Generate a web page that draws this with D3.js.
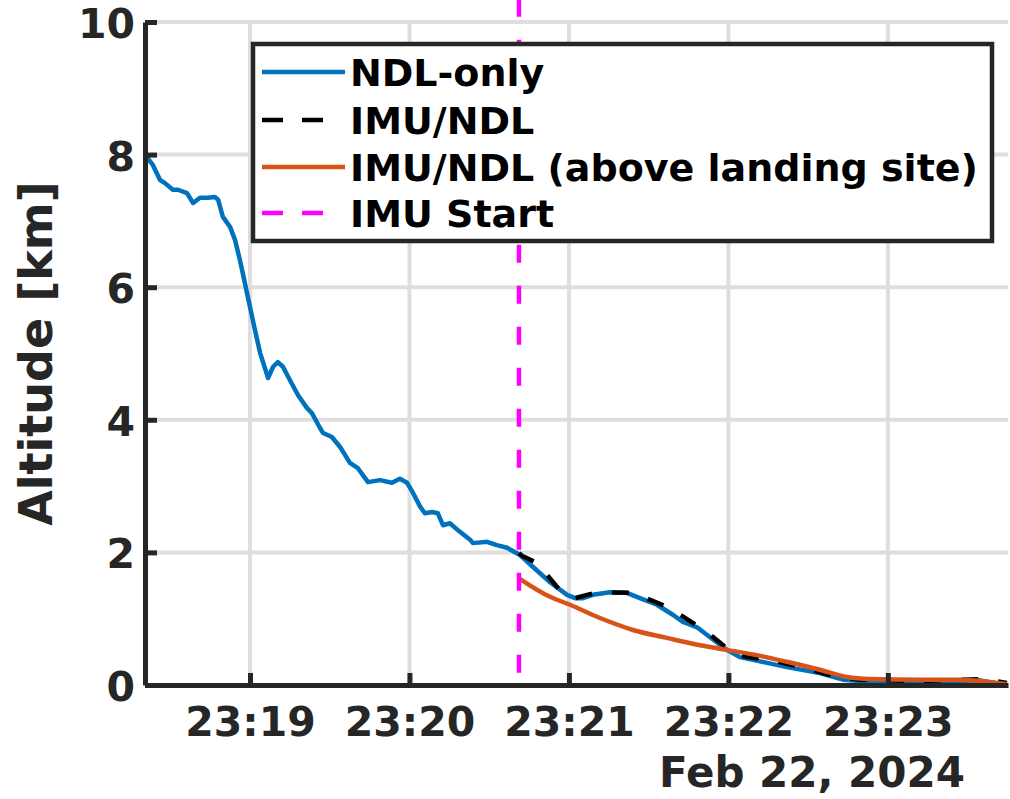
<!DOCTYPE html>
<html>
<head>
<meta charset="utf-8">
<script src="https://cdn.jsdelivr.net/npm/d3@7"></script>
<style>
  html, body { margin: 0; padding: 0; background: #ffffff; }
  svg { display: block; font-family: "DejaVu Sans", sans-serif; font-weight: bold; }
</style>
</head>
<body>
<svg id="chart" width="1010" height="799"></svg>
<script>
// ---- data (time = seconds after 23:18:00 UTC, 22 Feb 2024; altitude in km) ----
const ndlTime = [20.5, 23.5, 26.1, 28.0, 31.0, 32.9, 36.3, 38.6, 41.2, 44.2, 46.8, 48.0, 49.8, 52.5, 54.4, 56.2, 58.1, 60.0, 61.9, 63.8, 66.8, 68.7, 70.5, 72.4, 75.0, 78.1, 81.4, 83.3, 86.3, 87.5, 90.8, 93.9, 97.6, 100.6, 103.3, 104.4, 108.9, 113.4, 116.4, 119.1, 121.3, 124.0, 125.8, 128.5, 130.7, 132.6, 135.2, 139.0, 142.8, 143.9, 149.2, 152.9, 156.7, 161.6, 166.5, 172.9, 179.3, 182.3, 185.3, 189.0, 195.4, 201.8, 206.7, 213.1, 219.1, 222.9, 228.2, 233.1, 239.4, 244.3, 249.2, 262.0, 274.4, 283.1, 293.2, 312.1, 334.6, 344.8];
const ndlAlt  = [8.00, 7.84, 7.62, 7.57, 7.47, 7.47, 7.42, 7.27, 7.35, 7.35, 7.36, 7.32, 7.06, 6.91, 6.71, 6.41, 6.06, 5.70, 5.35, 5.01, 4.63, 4.80, 4.87, 4.80, 4.60, 4.37, 4.18, 4.10, 3.88, 3.80, 3.74, 3.59, 3.35, 3.27, 3.12, 3.06, 3.09, 3.05, 3.11, 3.05, 2.90, 2.69, 2.59, 2.61, 2.59, 2.41, 2.44, 2.31, 2.19, 2.14, 2.16, 2.11, 2.07, 1.96, 1.78, 1.55, 1.36, 1.31, 1.31, 1.36, 1.40, 1.39, 1.31, 1.21, 1.06, 0.95, 0.87, 0.72, 0.53, 0.42, 0.38, 0.27, 0.18, 0.08, 0.05, 0.04, 0.07, 0.00];

const imuTime = [161.2, 162.3, 168.0, 176.6, 182.3, 186.8, 191.7, 204.1, 218.0, 231.9, 241.7, 247.0, 255.6, 268.0, 280.8, 289.5, 312.1, 335.8, 344.8];
const imuAlt  = [1.99, 1.95, 1.84, 1.43, 1.31, 1.36, 1.40, 1.39, 1.16, 0.80, 0.48, 0.42, 0.38, 0.26, 0.12, 0.08, 0.06, 0.09, 0.03];

const siteTime = [161.2, 172.9, 180.4, 191.7, 204.1, 216.9, 229.3, 239.4, 250.7, 262.0, 274.4, 284.6, 293.2, 312.1, 327.1, 337.3, 344.8];
const siteAlt  = [1.61, 1.33, 1.21, 1.01, 0.83, 0.71, 0.60, 0.53, 0.45, 0.35, 0.23, 0.12, 0.09, 0.08, 0.08, 0.05, 0.01];

const imuStartTime = 161.2;
const imuStartAlt = [0, 10.35];

const xDomainSec = [20.5, 345.2];
const yDomain = [0, 10];
const yTicks = [0, 2, 4, 6, 8, 10];
const xTickLabels = ["23:19", "23:20", "23:21", "23:22", "23:23"];
const dateLabel = "Feb 22, 2024";
const yLabel = "Altitude [km]";
const legendLabels = ["NDL-only", "IMU/NDL", "IMU/NDL (above landing site)", "IMU Start"];
const seriesColors = ["#0072BD", "#000000", "#D95319", "#FF00FF"];

// ---- helpers ----
const base = Date.UTC(2024, 1, 22, 23, 18, 0);
const toDate = s => new Date(base + s * 1000);

const margin = { left: 145, right: 1008, top: 22, bottom: 685 };
const svg = d3.select("#chart");
const axisColor = "#262626";

const x = d3.scaleUtc().domain(xDomainSec.map(toDate)).range([margin.left, margin.right]);
const y = d3.scaleLinear().domain(yDomain).range([margin.bottom, margin.top]);
const xTickVals = xTickLabels.map(s => {
  const [h, m] = s.split(":").map(Number);
  return new Date(Date.UTC(2024, 1, 22, h, m, 0));
});

// ---- grid ----
const grid = svg.append("g");
grid.selectAll("line.gx").data(xTickVals).enter().append("line")
  .attr("x1", d => x(d)).attr("x2", d => x(d))
  .attr("y1", y(yDomain[0])).attr("y2", y(yDomain[1]))
  .attr("stroke", "#dedede").attr("stroke-width", 4);
grid.selectAll("line.gy").data(yTicks).enter().append("line")
  .attr("x1", margin.left).attr("x2", margin.right)
  .attr("y1", d => y(d)).attr("y2", d => y(d))
  .attr("stroke", "#dedede").attr("stroke-width", 4);

// ---- data lines ----
const line = d3.line().x(d => x(toDate(d[0]))).y(d => y(d[1]));
const zip = (a, b) => a.map((v, i) => [v, b[i]]);

svg.append("path").datum(zip(ndlTime, ndlAlt))
  .attr("d", line).attr("fill", "none")
  .attr("stroke", seriesColors[0]).attr("stroke-width", 4.5).attr("stroke-linejoin", "round");

svg.append("path").datum(zip(imuTime, imuAlt))
  .attr("d", line).attr("fill", "none")
  .attr("stroke", seriesColors[1]).attr("stroke-width", 4.5)
  .attr("stroke-dasharray", "17,20");

svg.append("path").datum(zip(siteTime, siteAlt))
  .attr("d", line.curve(d3.curveMonotoneX)).attr("fill", "none")
  .attr("stroke", seriesColors[2]).attr("stroke-width", 4.5);

svg.append("line")
  .attr("x1", x(toDate(imuStartTime))).attr("x2", x(toDate(imuStartTime)))
  .attr("y1", y(imuStartAlt[1])).attr("y2", y(imuStartAlt[0]))
  .attr("stroke", seriesColors[3]).attr("stroke-width", 4.5)
  .attr("stroke-dasharray", "18,23");

// ---- axes ----
const yAxis = d3.axisLeft(y).tickValues(yTicks).tickFormat(d3.format("d"))
  .tickSizeInner(-12).tickSizeOuter(0).tickPadding(10);
const gy = svg.append("g").attr("transform", `translate(${margin.left},0)`).call(yAxis);

const xAxis = d3.axisBottom(x).tickValues(xTickVals).tickFormat(d3.utcFormat("%H:%M"))
  .tickSizeInner(-12).tickSizeOuter(0).tickPadding(22);
const gx = svg.append("g").attr("transform", `translate(0,${margin.bottom})`).call(xAxis);

[gx, gy].forEach(g => {
  g.select(".domain").attr("stroke", axisColor).attr("stroke-width", 5);
  g.selectAll(".tick line").attr("stroke", axisColor).attr("stroke-width", 5);
  g.selectAll(".tick text").attr("fill", axisColor)
    .attr("font-family", "DejaVu Sans").attr("font-weight", "bold").attr("font-size", 41);
});
gy.selectAll(".tick text").attr("dy", "0.38em");

svg.append("text")
  .attr("x", 965).attr("y", 787)
  .attr("text-anchor", "end")
  .attr("font-size", 42).attr("fill", axisColor)
  .text(dateLabel);

svg.append("text")
  .attr("transform", `translate(52,${(margin.top + margin.bottom) / 2}) rotate(-90)`)
  .attr("text-anchor", "middle")
  .attr("font-size", 46).attr("fill", axisColor)
  .text(yLabel);

// ---- legend ----
const lg = svg.append("g");
lg.append("rect").attr("x", 253).attr("y", 44).attr("width", 739).attr("height", 197)
  .attr("fill", "#ffffff").attr("stroke", axisColor).attr("stroke-width", 4.5);
const rowY = [72, 120, 167, 213];
const dashes = [null, "21,19", null, "21,19"];
legendLabels.forEach((lab, i) => {
  const l = lg.append("line").attr("x1", 262).attr("x2", dashes[i] ? 324 : 345)
    .attr("y1", rowY[i]).attr("y2", rowY[i])
    .attr("stroke", seriesColors[i]).attr("stroke-width", 4.5);
  if (dashes[i]) l.attr("stroke-dasharray", dashes[i]);
  lg.append("text").attr("x", 350).attr("y", rowY[i] + 14)
    .attr("font-size", 38).attr("fill", "#000000").text(lab);
});
</script>
</body>
</html>
